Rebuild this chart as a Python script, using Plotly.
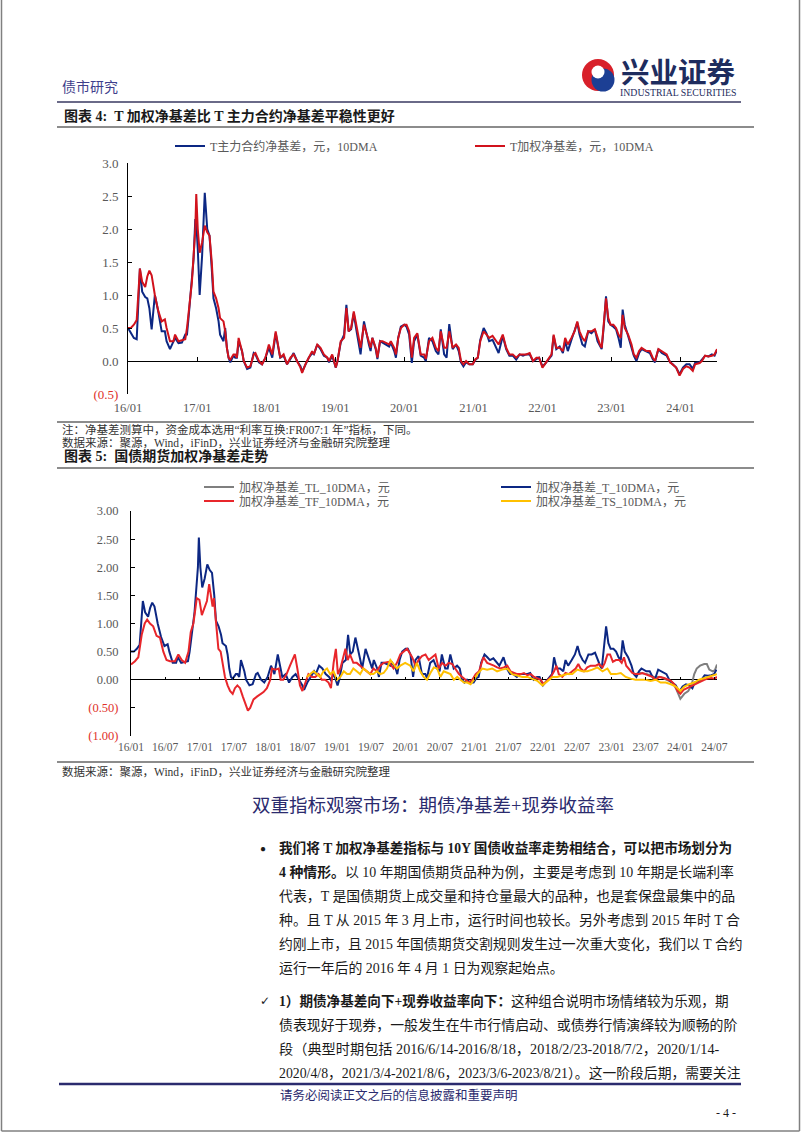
import plotly.graph_objects as go

# page size
W, H = 802, 1133


def px(x):
    return x / W


def py(y):
    return 1 - y / H


# ---- data: chart 1 (T weighted vs T main contract, also T series of chart 2)
dates_t = [
    "2016-01-01", "2016-01-16", "2016-02-01", "2016-02-16", "2016-03-04", "2016-03-16", "2016-04-01",
    "2016-04-12", "2016-04-23", "2016-05-05", "2016-05-22", "2016-06-09", "2016-06-27", "2016-07-14",
    "2016-07-23", "2016-08-10", "2016-08-28", "2016-09-06", "2016-09-24", "2016-10-12", "2016-10-30",
    "2016-11-08", "2016-11-16", "2016-11-25", "2016-12-04", "2016-12-13", "2016-12-22", "2016-12-27",
    "2017-01-04", "2017-01-14", "2017-01-27", "2017-02-10", "2017-02-23", "2017-03-07", "2017-03-19",
    "2017-03-28", "2017-04-11", "2017-04-24", "2017-05-02", "2017-05-20", "2017-05-29", "2017-06-07",
    "2017-06-16", "2017-06-25", "2017-07-03", "2017-07-12", "2017-07-21", "2017-07-30", "2017-08-08",
    "2017-08-26", "2017-09-04", "2017-09-22", "2017-10-09", "2017-10-27", "2017-11-05", "2017-11-23",
    "2017-12-10", "2017-12-28",
    "2018-01-15", "2018-02-02", "2018-02-20", "2018-03-07", "2018-03-16", "2018-04-03", "2018-04-21",
    "2018-05-09", "2018-05-26", "2018-06-13", "2018-07-01", "2018-07-10", "2018-07-27", "2018-08-14",
    "2018-09-01", "2018-09-10", "2018-09-28", "2018-10-15", "2018-11-02", "2018-11-20", "2018-11-29",
    "2018-12-16",
    "2019-01-04", "2019-01-13", "2019-01-30", "2019-02-17", "2019-03-01", "2019-03-13", "2019-03-26",
    "2019-04-09", "2019-04-24", "2019-05-06", "2019-05-15", "2019-06-02", "2019-06-16", "2019-06-28",
    "2019-07-07", "2019-07-16", "2019-08-03", "2019-08-12", "2019-08-26", "2019-09-08", "2019-09-26",
    "2019-10-13", "2019-10-22", "2019-11-09", "2019-11-18", "2019-11-30", "2019-12-14",
    "2020-01-01", "2020-01-13", "2020-01-27", "2020-02-10", "2020-02-22", "2020-03-10", "2020-03-28",
    "2020-04-15", "2020-04-24", "2020-05-11", "2020-05-29", "2020-06-16", "2020-06-30", "2020-07-12",
    "2020-07-30", "2020-08-12", "2020-08-26", "2020-09-13", "2020-10-01", "2020-10-15", "2020-10-27",
    "2020-11-09", "2020-11-23", "2020-12-10", "2020-12-28",
    "2021-01-12", "2021-01-24", "2021-02-06", "2021-02-24", "2021-03-11", "2021-03-25", "2021-04-12",
    "2021-04-30", "2021-05-14", "2021-06-05", "2021-06-23", "2021-07-10", "2021-07-28", "2021-08-15",
    "2021-09-02", "2021-09-20", "2021-10-07", "2021-10-25", "2021-11-12", "2021-11-30", "2021-12-14",
    "2022-01-01", "2022-01-13", "2022-02-01", "2022-02-18", "2022-03-01", "2022-03-15", "2022-04-02",
    "2022-04-19", "2022-05-01", "2022-05-15", "2022-06-03", "2022-06-20", "2022-07-04", "2022-07-16",
    "2022-07-31", "2022-08-13", "2022-08-31", "2022-09-17", "2022-10-05", "2022-10-19", "2022-11-01",
    "2022-11-10", "2022-11-22", "2022-12-03", "2022-12-15", "2022-12-27",
    "2023-01-11", "2023-01-25", "2023-02-07", "2023-02-19", "2023-03-01", "2023-03-12", "2023-03-30",
    "2023-04-17", "2023-04-29", "2023-05-13", "2023-05-27", "2023-06-09", "2023-07-05", "2023-07-23",
    "2023-08-07", "2023-08-19", "2023-09-06", "2023-09-24", "2023-10-20", "2023-11-07", "2023-11-21",
    "2023-12-09", "2023-12-27",
    "2024-01-14", "2024-02-01", "2024-02-18", "2024-03-06", "2024-03-18", "2024-04-11", "2024-04-23",
    "2024-05-10", "2024-05-28", "2024-06-15", "2024-06-29", "2024-07-12",
]

t_weighted = [
    0.50, 0.50, 0.55, 0.62, 1.40, 1.20, 1.12, 1.28, 1.37, 1.30, 1.00, 0.76, 0.60, 0.63,
    0.50, 0.30, 0.30, 0.40, 0.30, 0.32, 0.33, 0.50, 0.70, 1.00, 1.20, 1.60, 2.00, 2.53,
    2.00, 1.64, 1.80, 2.05, 1.95, 1.90, 1.50, 1.05, 0.95, 0.80, 0.65, 0.60, 0.45, 0.20,
    0.05, 0.02, 0.05, 0.10, 0.10, 0.05, 0.35, 0.15, 0.00, -0.10, -0.08, 0.10, 0.12, 0.00,
    -0.05, 0.05,
    0.25, 0.10, 0.45, 0.20, 0.05, 0.10, -0.05, 0.05, 0.10, 0.00, -0.10, -0.18, -0.05, 0.05,
    0.15, 0.10, 0.25, 0.20, 0.10, 0.05, 0.00, 0.10,
    -0.10, 0.00, 0.30, 0.35, 0.80, 0.45, 0.50, 0.75, 0.50, 0.30, 0.20, 0.55, 0.40, 0.30,
    0.20, 0.35, 0.20, 0.05, 0.30, 0.30, 0.28, 0.25, 0.30, 0.20, 0.10, 0.35, 0.50,
    0.55, 0.55, 0.45, 0.05, 0.35, 0.42, 0.10, 0.10, 0.03, 0.30, 0.35, 0.20, 0.15, 0.45,
    0.20, 0.20, 0.45, 0.20, 0.25, 0.20, 0.00, -0.05, 0.00, -0.05, -0.05,
    0.03, 0.05, 0.30, 0.45, 0.40, 0.35, 0.38, 0.30, 0.25, 0.40, 0.20, 0.10, 0.10, 0.05,
    0.10, 0.10, 0.10, 0.12, 0.00, 0.05, 0.05,
    -0.10, -0.05, 0.03, 0.10, 0.40, 0.20, 0.20, 0.15, 0.35, 0.25, 0.35, 0.45, 0.60, 0.45,
    0.35, 0.30, 0.45, 0.45, 0.48, 0.35, 0.25, 0.20, 0.55, 0.95, 0.65, 0.55,
    0.55, 0.50, 0.40, 0.35, 0.70, 0.50, 0.40, 0.25, 0.10, 0.05, 0.15, 0.20, 0.15, 0.15,
    0.05, 0.00, 0.18, 0.15, 0.10, -0.02, -0.05, -0.10, -0.22,
    -0.12, -0.08, -0.10, -0.15, -0.05, -0.03, 0.00, 0.08, 0.07, 0.08, 0.10, 0.18,
]

t_main = [
    0.50, 0.42, 0.35, 0.33, 1.40, 1.05, 0.97, 0.95, 0.80, 0.48, 1.00, 0.75, 0.45, 0.45,
    0.30, 0.18, 0.28, 0.35, 0.27, 0.28, 0.40, 0.40, 0.65, 0.95, 1.15, 1.55, 2.15, 2.10,
    1.70, 1.00, 1.60, 2.55, 2.00, 1.90, 1.40, 0.95, 0.80, 0.60, 0.40, 0.30, 0.50, 0.20,
    0.05, -0.02, 0.03, 0.08, 0.05, 0.05, 0.30, 0.15, 0.00, -0.12, -0.10, 0.12, 0.10, -0.02,
    -0.05, 0.05,
    0.20, 0.05, 0.42, 0.15, 0.05, 0.08, -0.05, 0.03, 0.12, 0.00, -0.08, -0.16, -0.05, 0.05,
    0.12, 0.10, 0.25, 0.18, 0.08, 0.05, -0.02, 0.08,
    -0.10, 0.00, 0.28, 0.40, 0.85, 0.45, 0.48, 0.72, 0.45, 0.25, 0.10, 0.60, 0.38, 0.25,
    0.15, 0.35, 0.18, 0.03, 0.30, 0.28, 0.25, 0.22, 0.28, 0.15, 0.05, 0.35, 0.52,
    0.55, 0.52, 0.40, -0.03, 0.30, 0.40, 0.08, 0.05, 0.00, 0.35, 0.30, 0.15, 0.10, 0.48,
    0.10, 0.05, 0.56, 0.18, 0.25, 0.15, -0.02, -0.08, -0.02, -0.05, -0.05,
    0.02, 0.05, 0.32, 0.50, 0.42, 0.30, 0.32, 0.22, 0.12, 0.38, 0.18, 0.08, 0.08, 0.02,
    0.10, 0.08, 0.10, 0.10, 0.00, 0.03, 0.05,
    -0.08, -0.05, 0.02, 0.08, 0.38, 0.18, 0.22, 0.12, 0.30, 0.15, 0.32, 0.45, 0.58, 0.40,
    0.25, 0.22, 0.45, 0.42, 0.48, 0.30, 0.22, 0.18, 0.55, 0.98, 0.60, 0.55,
    0.52, 0.48, 0.35, 0.20, 0.78, 0.55, 0.38, 0.22, 0.08, 0.00, 0.12, 0.18, 0.15, 0.12,
    0.03, -0.02, 0.18, 0.12, 0.08, -0.02, -0.05, -0.10, -0.20,
    -0.10, -0.05, -0.05, -0.12, -0.03, -0.02, 0.02, 0.08, 0.07, 0.10, 0.08, 0.17,
]

# ---- data: chart 2 other contracts
dates_tf = [
    "2016-01-01", "2016-01-22", "2016-02-09", "2016-02-27", "2016-03-14", "2016-03-27", "2016-04-11",
    "2016-04-28", "2016-05-16", "2016-06-03", "2016-06-21", "2016-07-08", "2016-07-26", "2016-08-22",
    "2016-09-09", "2016-09-27", "2016-10-15", "2016-11-02", "2016-11-14", "2016-11-28", "2016-12-16",
    "2016-12-30",
    "2017-01-12", "2017-01-24", "2017-02-08", "2017-02-20", "2017-02-28", "2017-03-10", "2017-03-17",
    "2017-03-28", "2017-04-10", "2017-04-22", "2017-05-02", "2017-05-15", "2017-05-29", "2017-06-11",
    "2017-06-25", "2017-07-07", "2017-07-20", "2017-08-03", "2017-08-18", "2017-08-30", "2017-09-14",
    "2017-09-26", "2017-10-14", "2017-11-01", "2017-11-19", "2017-12-06", "2017-12-24",
    "2018-01-11", "2018-01-20", "2018-02-07", "2018-02-25", "2018-03-07", "2018-03-21", "2018-04-08",
    "2018-04-26", "2018-05-22", "2018-06-04", "2018-06-18", "2018-07-01", "2018-07-15", "2018-08-02",
    "2018-08-20", "2018-09-07", "2018-09-25", "2018-10-12", "2018-10-30", "2018-11-17", "2018-11-30",
    "2018-12-14", "2018-12-26",
    "2019-01-06", "2019-01-19", "2019-02-03", "2019-02-15", "2019-02-27", "2019-03-11", "2019-03-29",
    "2019-04-16", "2019-05-04", "2019-05-21", "2019-06-09", "2019-06-27", "2019-07-14", "2019-08-01",
    "2019-08-19", "2019-09-06", "2019-10-03", "2019-10-29", "2019-11-16", "2019-12-04",
    "2020-01-09", "2020-02-05", "2020-02-23", "2020-03-10", "2020-03-28", "2020-04-16", "2020-05-03",
    "2020-05-21", "2020-06-08", "2020-06-25", "2020-07-13", "2020-08-01", "2020-08-18", "2020-09-05",
    "2020-09-23", "2020-10-11", "2020-10-28", "2020-11-16", "2020-12-03", "2020-12-21",
    "2021-01-08", "2021-01-26", "2021-02-18", "2021-03-10", "2021-03-27", "2021-04-15", "2021-05-02",
    "2021-05-20", "2021-06-07", "2021-06-25", "2021-07-12", "2021-07-30", "2021-08-17", "2021-09-05",
    "2021-09-22", "2021-10-10", "2021-10-28", "2021-11-15", "2021-12-02", "2021-12-20",
    "2022-01-04", "2022-01-25", "2022-02-12", "2022-03-01", "2022-03-14", "2022-03-26", "2022-04-14",
    "2022-05-01", "2022-05-19", "2022-06-06", "2022-06-24", "2022-07-08", "2022-07-20", "2022-08-07",
    "2022-08-25", "2022-09-12", "2022-10-09", "2022-10-26", "2022-11-14", "2022-11-26", "2022-12-10",
    "2022-12-24",
    "2023-01-08", "2023-01-24", "2023-02-11", "2023-02-24", "2023-03-08", "2023-03-20", "2023-04-04",
    "2023-04-21", "2023-05-09", "2023-05-27", "2023-06-14", "2023-07-01", "2023-07-19", "2023-08-06",
    "2023-08-24", "2023-09-11", "2023-10-08", "2023-10-25", "2023-11-13", "2023-12-01", "2023-12-18",
    "2024-01-02", "2024-01-19", "2024-02-07", "2024-02-24", "2024-03-12", "2024-04-03", "2024-04-20",
    "2024-05-08", "2024-05-26", "2024-06-13", "2024-07-01", "2024-07-15",
]

tf_weighted = [
    0.27, 0.33, 0.40, 0.80, 1.00, 1.07, 1.00, 0.95, 0.78, 0.75, 0.50, 0.35, 0.33, 0.33,
    0.45, 0.35, 0.30, 0.50, 0.85, 1.00, 1.45, 1.42,
    1.15, 1.25, 1.40, 1.70, 1.50, 1.30, 1.45, 1.00, 0.55, 0.50, 0.30, 0.05, -0.10, -0.20,
    -0.25, -0.15, -0.10, -0.15, -0.30, -0.40, -0.55, -0.50, -0.35, -0.30, -0.25, -0.22, -0.15,
    0.00, 0.20, 0.18, 0.20, 0.00, 0.00, 0.10, 0.25, 0.45, 0.20, -0.10, -0.20, -0.05, 0.10,
    0.05, 0.05, 0.10, 0.00, 0.00, -0.05, -0.15, 0.30, 0.55,
    0.10, 0.20, 0.40, 0.55, 0.35, 0.45, 0.30, 0.30, 0.25, 0.20, 0.15, 0.10, 0.20, 0.15,
    0.25, 0.30, 0.32, 0.20, 0.30, 0.45,
    0.55, 0.40, 0.25, 0.35, 0.42, 0.45, 0.35, 0.40, 0.45, 0.20, 0.30, 0.25, 0.30, 0.28,
    0.20, 0.10, 0.05, 0.00, -0.05, 0.00,
    0.10, 0.15, 0.40, 0.30, 0.28, 0.25, 0.22, 0.20, 0.22, 0.25, 0.15, 0.12, 0.10, 0.10,
    0.12, 0.08, 0.10, 0.05, 0.02, 0.00,
    -0.08, 0.00, 0.05, 0.15, 0.25, 0.10, 0.05, 0.12, 0.10, 0.15, 0.20, 0.28, 0.20, 0.15,
    0.22, 0.25, 0.25, 0.28, 0.22, 0.30, 0.45, 0.45,
    0.32, 0.35, 0.35, 0.30, 0.40, 0.25, 0.18, 0.12, 0.10, 0.10, 0.12, 0.10, 0.08, 0.05,
    0.00, 0.05, 0.03, 0.00, -0.02, -0.08, -0.20,
    -0.25, -0.18, -0.15, -0.12, -0.10, -0.05, -0.02, 0.00, 0.02, 0.03, 0.02, 0.05,
]

dates_ts = [
    "2018-07-24", "2018-08-11", "2018-08-29", "2018-09-16", "2018-10-04", "2018-10-21", "2018-11-09",
    "2018-11-26", "2018-12-14",
    "2019-01-01", "2019-01-19", "2019-02-06", "2019-02-24", "2019-03-11", "2019-03-29", "2019-04-16",
    "2019-05-04", "2019-05-21", "2019-06-09", "2019-06-27", "2019-07-14", "2019-08-01", "2019-08-19",
    "2019-09-06", "2019-09-24", "2019-10-12", "2019-10-29", "2019-11-16", "2019-12-04", "2019-12-30",
    "2020-01-26", "2020-02-12", "2020-03-01", "2020-03-19", "2020-04-06", "2020-04-24", "2020-05-12",
    "2020-05-30", "2020-06-17", "2020-07-04", "2020-07-22", "2020-08-09", "2020-08-27", "2020-09-14",
    "2020-10-02", "2020-10-19", "2020-11-07", "2020-11-24", "2020-12-12", "2020-12-30",
    "2021-01-17", "2021-02-12", "2021-03-10", "2021-04-06", "2021-05-02", "2021-05-29", "2021-06-25",
    "2021-07-21", "2021-08-17", "2021-09-13", "2021-10-10", "2021-11-06", "2021-12-02", "2021-12-29",
    "2022-01-25", "2022-02-21", "2022-03-18", "2022-04-14", "2022-05-10", "2022-06-06", "2022-07-03",
    "2022-07-29", "2022-08-25", "2022-09-21", "2022-10-18", "2022-11-14", "2022-12-10", "2022-12-28",
    "2023-01-24", "2023-02-19", "2023-03-17", "2023-04-13", "2023-05-09", "2023-06-05", "2023-07-01",
    "2023-07-28", "2023-08-24", "2023-09-19", "2023-10-16", "2023-11-13", "2023-12-09",
    "2024-01-02", "2024-01-23", "2024-02-18", "2024-03-16", "2024-04-11", "2024-05-08", "2024-06-04",
    "2024-07-01", "2024-07-15",
]

ts_weighted = [
    0.05, 0.10, 0.15, 0.10, 0.05, 0.15, 0.20, 0.10, 0.15,
    0.00, 0.05, 0.15, 0.10, 0.10, 0.20, 0.15, 0.10, 0.20, 0.15, 0.10, 0.10, 0.15, 0.10,
    0.12, 0.20, 0.35, 0.28, 0.20, 0.25, 0.30,
    0.25, 0.15, 0.30, 0.15, 0.05, 0.00, 0.12, 0.22, 0.20, 0.05, 0.15, 0.12, 0.10, 0.00,
    0.05, 0.00, -0.05, -0.05, -0.08, 0.00,
    0.10, 0.20, 0.18, 0.20, 0.15, 0.18, 0.20, 0.10, 0.08, 0.05, 0.05, 0.02, -0.02, -0.10,
    -0.02, 0.05, 0.05, 0.08, 0.10, 0.10, 0.18, 0.15, 0.15, 0.18, 0.22, 0.15, 0.20, 0.10,
    0.10, 0.12, 0.05, 0.02, 0.00, 0.00, 0.00, -0.02, 0.00, -0.05, -0.05, -0.08, -0.12,
    -0.20, -0.12, -0.08, -0.05, 0.00, 0.03, 0.05, 0.08, 0.10,
]

dates_tl = [
    "2023-05-01", "2023-06-05", "2023-07-10", "2023-08-15", "2023-09-19", "2023-10-25", "2023-11-21",
    "2023-12-09", "2024-01-02", "2024-01-23", "2024-02-13", "2024-03-01", "2024-03-16", "2024-03-29",
    "2024-04-16", "2024-05-08", "2024-05-22", "2024-06-04", "2024-06-22", "2024-07-04", "2024-07-15",
]

tl_weighted = [
    0.10, 0.12, 0.10, 0.05, 0.05, 0.00, -0.05, -0.15, -0.34, -0.25, -0.20, -0.10, 0.10, 0.20,
    0.25, 0.28, 0.28, 0.18, 0.15, 0.17, 0.27,
]

# axis ticks
c1_ticks = ["2016-01-01", "2017-01-01", "2018-01-01", "2019-01-01", "2020-01-01",
            "2021-01-01", "2022-01-01", "2023-01-01", "2024-01-01"]
c1_ticklabels = ["16/01", "17/01", "18/01", "19/01", "20/01", "21/01", "22/01", "23/01", "24/01"]
c2_ticks = ["2016-01-01", "2016-07-01", "2017-01-01", "2017-07-01", "2018-01-01", "2018-07-01",
            "2019-01-01", "2019-07-01", "2020-01-01", "2020-07-01", "2021-01-01", "2021-07-01",
            "2022-01-01", "2022-07-01", "2023-01-01", "2023-07-01", "2024-01-01", "2024-07-01"]
c2_ticklabels = ["16/01", "16/07", "17/01", "17/07", "18/01", "18/07", "19/01", "19/07", "20/01",
                 "20/07", "21/01", "21/07", "22/01", "22/07", "23/01", "23/07", "24/01", "24/07"]
c1_yvals = [-0.5, 0, 0.5, 1.0, 1.5, 2.0, 2.5, 3.0]
c1_ylabels = ["(0.5)", "0.0", "0.5", "1.0", "1.5", "2.0", "2.5", "3.0"]
c2_yvals = [-1.0, -0.5, 0, 0.5, 1.0, 1.5, 2.0, 2.5, 3.0]
c2_ylabels = ["(1.00)", "(0.50)", "0.00", "0.50", "1.00", "1.50", "2.00", "2.50", "3.00"]

SERIF = "Liberation Serif, Noto Sans CJK SC, DejaVu Sans"
NAVY = "#0c2783"
RED1 = "#d1121c"
RED2 = "#e8262b"
GREY = "#7f7f7f"
GOLD = "#ffc000"
NEG = "#e0302a"
TICK = "#595959"


def neg_red(labels):
    return [f'<span style="color:{NEG}">{s}</span>' if s.startswith("(") else s for s in labels]


fig = go.Figure()

# chart 1
fig.add_trace(go.Scatter(x=dates_t, y=t_main, name="T主力合约净基差，元，10DMA", mode="lines",
                         line=dict(color=NAVY, width=2), xaxis="x", yaxis="y", legend="legend"))
fig.add_trace(go.Scatter(x=dates_t, y=t_weighted, name="T加权净基差，元，10DMA", mode="lines",
                         line=dict(color=RED1, width=2), xaxis="x", yaxis="y", legend="legend"))
fig.add_trace(go.Scatter(x=dates_t[:1], y=t_weighted[:1], mode="lines", line=dict(width=0),
                         showlegend=False, hoverinfo="skip", xaxis="x3", yaxis="y"))

# chart 2
fig.add_trace(go.Scatter(x=dates_tl, y=tl_weighted, name="加权净基差_TL_10DMA，元", mode="lines",
                         line=dict(color=GREY, width=2), xaxis="x2", yaxis="y2", legend="legend2"))
fig.add_trace(go.Scatter(x=dates_t, y=t_weighted, name="加权净基差_T_10DMA，元", mode="lines",
                         line=dict(color=NAVY, width=2), xaxis="x2", yaxis="y2", legend="legend2"))
fig.add_trace(go.Scatter(x=dates_tf, y=tf_weighted, name="加权净基差_TF_10DMA，元", mode="lines",
                         line=dict(color=RED2, width=2), xaxis="x2", yaxis="y2", legend="legend3"))
fig.add_trace(go.Scatter(x=dates_ts, y=ts_weighted, name="加权净基差_TS_10DMA，元", mode="lines",
                         line=dict(color=GOLD, width=2), xaxis="x2", yaxis="y2", legend="legend3"))
fig.add_trace(go.Scatter(x=dates_t[:1], y=t_weighted[:1], mode="lines", line=dict(width=0),
                         showlegend=False, hoverinfo="skip", xaxis="x4", yaxis="y2"))

# plot areas
c1_dom_x = [px(128), px(717)]
c1_dom_y = [py(394), py(163)]
c1_range_y = [-0.5, 3.0]
c1_range_x = ["2016-01-01", "2024-07-12"]
c2_dom_x = [px(131), px(717)]
c2_dom_y = [py(736), py(511)]
c2_range_y = [-1.0, 3.0]
c2_range_x = ["2016-01-01", "2024-07-15"]


def zero_pos(dom, rng):
    return dom[0] + (0 - rng[0]) / (rng[1] - rng[0]) * (dom[1] - dom[0])


tickfont = dict(family=SERIF, size=12.5, color=TICK)
ax_common = dict(showgrid=False, zeroline=False, fixedrange=True, automargin=False)

fig.update_layout(
    xaxis=dict(domain=c1_dom_x, range=c1_range_x, type="date", anchor="y", tickvals=c1_ticks,
               ticktext=c1_ticklabels, ticks="", showline=False, tickfont=tickfont,
               ticklabelstandoff=4, **ax_common),
    yaxis=dict(domain=c1_dom_y, range=c1_range_y, anchor="x", tickvals=c1_yvals,
               ticktext=neg_red(c1_ylabels), showline=True, linecolor="black", linewidth=1,
               ticks="inside", ticklen=4, tickcolor="black", tickfont=dict(family=SERIF, size=13, color=TICK),
               ticklabelstandoff=6, showgrid=False, zeroline=True, zerolinecolor="black",
               zerolinewidth=1.2, fixedrange=True, automargin=False),
    xaxis3=dict(overlaying="x", range=c1_range_x, type="date", anchor="free",
                position=zero_pos(c1_dom_y, c1_range_y), tickvals=c1_ticks, ticks="inside",
                ticklen=4, tickcolor="black", showticklabels=False, showline=False, **ax_common),
    xaxis2=dict(domain=c2_dom_x, range=c2_range_x, type="date", anchor="y2", tickvals=c2_ticks,
                ticktext=c2_ticklabels, ticks="", showline=False,
                tickfont=dict(family=SERIF, size=11.5, color=TICK), ticklabelstandoff=2, **ax_common),
    yaxis2=dict(domain=c2_dom_y, range=c2_range_y, anchor="x2", tickvals=c2_yvals,
                ticktext=neg_red(c2_ylabels), showline=True, linecolor="black", linewidth=1,
                ticks="inside", ticklen=4, tickcolor="black", tickfont=dict(family=SERIF, size=12.5, color=TICK),
                ticklabelstandoff=9, showgrid=False, zeroline=True, zerolinecolor="black",
                zerolinewidth=1.2, fixedrange=True, automargin=False),
    xaxis4=dict(overlaying="x2", range=c2_range_x, type="date", anchor="free",
                position=zero_pos(c2_dom_y, c2_range_y), tickvals=c2_ticks, ticks="inside",
                ticklen=3, tickcolor="black", showticklabels=False, showline=False, **ax_common),
)

legend_font = dict(family=SERIF, size=12, color=TICK)
fig.update_layout(
    legend=dict(orientation="h", x=px(170), y=py(146), xanchor="left", yanchor="middle",
                entrywidth=255, entrywidthmode="pixels", font=legend_font, bgcolor="rgba(0,0,0,0)"),
    legend2=dict(orientation="h", x=px(199), y=py(487), xanchor="left", yanchor="middle",
                 entrywidth=252, entrywidthmode="pixels", font=legend_font, bgcolor="rgba(0,0,0,0)"),
    legend3=dict(orientation="h", x=px(199), y=py(501), xanchor="left", yanchor="middle",
                 entrywidth=252, entrywidthmode="pixels", font=legend_font, bgcolor="rgba(0,0,0,0)"),
)

# ---- page text
notes = []


def note(text, x, y, size, color="#1a1a1a", anchor="left", family=SERIF):
    notes.append(dict(text=text, x=px(x), y=py(y), xref="paper", yref="paper", xanchor=anchor,
                      yanchor="middle", showarrow=False, font=dict(family=family, size=size, color=color)))


note("债市研究", 60, 87, 14, "#3f3f8c")
note("<b>兴业证券</b>", 678, 73, 28.5, "#1e2c5e", anchor="center")
note("INDUSTRIAL SECURITIES", 678, 92, 9.8, "#1e2c5e", anchor="center")
note("<b>图表 4:  T 加权净基差比 T 主力合约净基差平稳性更好</b>", 62, 116, 14)
note("注：净基差测算中，资金成本选用“利率互换:FR007:1 年”指标，下同。", 60, 430, 11.5, "#333333")
note("数据来源：聚源，Wind，iFinD，兴业证券经济与金融研究院整理", 60, 442, 11.5, "#333333")
note("<b>图表 5:  国债期货加权净基差走势</b>", 62, 456, 14)
note("数据来源：聚源，Wind，iFinD，兴业证券经济与金融研究院整理", 60, 771, 11.5, "#333333")
note("双重指标观察市场：期债净基差+现券收益率", 433, 806, 18.5, "#2b2b6e", anchor="center")

body = [
    "<b>我们将 T 加权净基差指标与 10Y 国债收益率走势相结合，可以把市场划分为</b>",
    "<b>4 种情形。</b>以 10 年期国债期货品种为例，主要是考虑到 10 年期是长端利率",
    "代表，T 是国债期货上成交量和持仓量最大的品种，也是套保盘最集中的品",
    "种。且 T 从 2015 年 3 月上市，运行时间也较长。另外考虑到 2015 年时 T 合",
    "约刚上市，且 2015 年国债期货交割规则发生过一次重大变化，我们以 T 合约",
    "运行一年后的 2016 年 4 月 1 日为观察起始点。",
]
body_sizes = [13.6, 13.9, 13.9, 13.9, 13.8, 13.9]
for i, line in enumerate(body):
    note(line, 277, 848 + 24 * i, body_sizes[i])
note("●", 258, 848, 10)

body2 = [
    "<b>1）期债净基差向下+现券收益率向下：</b>这种组合说明市场情绪较为乐观，期",
    "债表现好于现券，一般发生在牛市行情启动、或债券行情演绎较为顺畅的阶",
    "段（典型时期包括 2016/6/14-2016/8/18，2018/2/23-2018/7/2，2020/1/14-",
    "2020/4/8，2021/3/4-2021/8/6，2023/3/6-2023/8/21）。这一阶段后期，需要关注",
]
body2_sizes = [13.6, 13.9, 14.2, 13.8]
for i, line in enumerate(body2):
    note(line, 277, 1001 + 24 * i, body2_sizes[i])
note("✓", 258, 1001, 12, family="DejaVu Sans")

note("请务必阅读正文之后的信息披露和重要声明", 399, 1095, 12.5, "#2b2b6e", anchor="center")
note("- 4 -", 726, 1113, 12, "#1a1a1a", anchor="center")

fig.update_layout(annotations=notes)

# ---- rules, border and logo
shapes = []


def hline(y, x0, x1, color, width):
    shapes.append(dict(type="line", xref="paper", yref="paper", x0=px(x0), x1=px(x1), y0=py(y), y1=py(y),
                       line=dict(color=color, width=width)))


def vline(x, y0, y1, color, width):
    shapes.append(dict(type="line", xref="paper", yref="paper", x0=px(x), x1=px(x), y0=py(y0), y1=py(y1),
                       line=dict(color=color, width=width)))


def disc(cx, cy, r, color):
    shapes.append(dict(type="circle", xref="paper", yref="paper", x0=px(cx - r), x1=px(cx + r),
                       y0=py(cy + r), y1=py(cy - r), fillcolor=color, line=dict(width=0)))


hline(102, 57, 741, "#6a6a88", 2)
hline(127, 57, 754, "#8c8c8c", 1.8)
hline(422, 57, 754, "#8c8c8c", 1.8)
hline(468, 57, 754, "#8c8c8c", 1.8)
hline(762, 57, 754, "#8c8c8c", 1.8)
hline(1084, 59, 741, "#2b2b6e", 2.5)
vline(1.5, 0, 1131, "#808080", 1.5)
vline(799.5, 0, 1131, "#808080", 1.5)
hline(1131, 1.5, 799.5, "#808080", 1.5)

# logo: red ring, blue swirl, white centre
disc(598, 75, 16, "#d8202a")
disc(603, 80, 11.5, "#1c3f94")
disc(598, 72, 6.5, "white")

fig.update_layout(
    template="none",
    font=dict(family=SERIF, color="#1a1a1a"),
    shapes=shapes,
    width=W, height=H,
    margin=dict(l=0, r=0, t=0, b=0, autoexpand=False),
    paper_bgcolor="white",
    plot_bgcolor="white",
    hovermode=False,
    showlegend=True,
)

# the page body has a default 8px margin; drop it so the figure fills the window
fig.write_html("out.html", config={"displayModeBar": False},
               post_script="document.body.style.margin='0';")
